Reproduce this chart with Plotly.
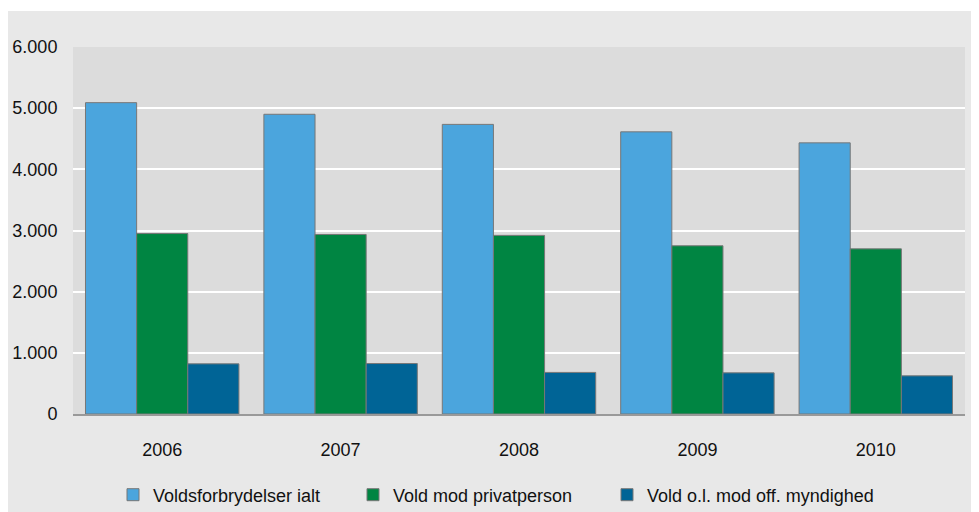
import plotly.graph_objects as go

years = ["2006", "2007", "2008", "2009", "2010"]
series_names = ["Voldsforbrydelser ialt", "Vold mod privatperson", "Vold o.l. mod off. myndighed"]
total = [5090, 4900, 4735, 4613, 4433]
private = [2950, 2935, 2920, 2750, 2700]
authority = [820, 825, 680, 673, 624]
colors = ["#4ba5dd", "#008542", "#006496"]

# page body has an 8px margin; the figure fills the rest of the window
W, H = 971, 504
L, R, T, B = 65, 14, 39, 98
pw, ph = W - L - R, H - T - B

legend_ids = ["legend", "legend2", "legend3"]
legend_x_px = [105, 345, 599]

fig = go.Figure()
for name, vals, c, lid in zip(series_names, [total, private, authority], colors, legend_ids):
    fig.add_trace(go.Bar(x=years, y=vals, name=name, legend=lid,
                         marker=dict(color=c, line=dict(color="#777777", width=1))))

# thin white strip at the top of the gray panel
fig.add_shape(type="rect", xref="paper", yref="paper", layer="below",
              x0=-1, x1=2, y0=(H - B - 3) / ph, y1=3,
              fillcolor="white", line=dict(width=0))

legend_style = dict(orientation="h", xanchor="left",
                    y=(H - B - 487) / ph, yanchor="middle",
                    bgcolor="rgba(0,0,0,0)", itemwidth=30, font=dict(size=18))

fig.update_layout(
    width=W, height=H,
    margin=dict(l=L, r=R, t=T, b=B, autoexpand=False),
    paper_bgcolor="#e8e8e8",
    plot_bgcolor="#dcdcdc",
    separators=",.",
    barmode="group",
    bargap=0.14,
    bargroupgap=0,
    font=dict(family="Liberation Sans, Arial, sans-serif", size=18, color="#111111"),
    showlegend=True,
    xaxis=dict(showgrid=False, ticks="outside", ticklen=18, tickcolor="rgba(0,0,0,0)",
               showline=True, linecolor="#999999", linewidth=2, automargin=False),
    yaxis=dict(range=[0, 6000], dtick=1000, tickformat=",d",
               gridcolor="white", gridwidth=2, zeroline=False, automargin=False,
               ticks="outside", ticklen=11, tickcolor="rgba(0,0,0,0)"),
)
for lid, lx in zip(legend_ids, legend_x_px):
    fig.update_layout({lid: dict(legend_style, x=(lx - L) / pw)})

fig.write_html("out.html")
